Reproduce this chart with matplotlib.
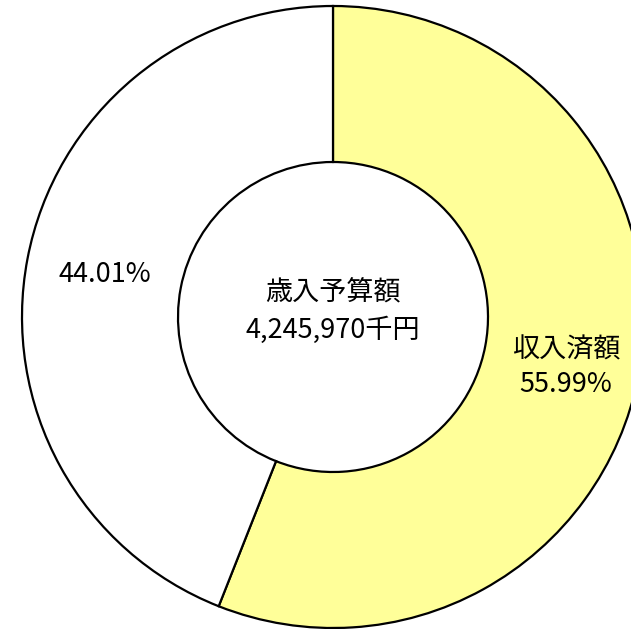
import matplotlib
matplotlib.use("Agg")
import matplotlib.pyplot as plt

plt.rcParams['font.family'] = ['Noto Sans CJK JP', 'DejaVu Sans']

labels = ["収入済額", ""]
values = [55.99, 44.01]
pct_labels = ["55.99%", "44.01%"]
colors = ["#ffff99", "#ffffff"]
center_title = "歳入予算額"
center_value = "4,245,970千円"

fig = plt.figure(figsize=(6.31, 6.29), dpi=100)
ax = fig.add_axes([0, 0, 1, 1])

cx, cy = 333, 312
r_out, r_in = 311, 155

ax.pie(values, colors=colors, startangle=90, counterclock=False,
       center=(cx, cy), radius=r_out, frame=True,
       wedgeprops=dict(width=r_out - r_in, edgecolor="black", linewidth=1.6))
ax.set_xlim(0, 631)
ax.set_ylim(0, 629)
ax.set_aspect("equal")
ax.axis("off")

fs = 19.5
ax.text(cx, 629 - 293, center_title, ha="center", va="center", fontsize=fs)
ax.text(cx, 629 - 330, center_value, ha="center", va="center", fontsize=fs)

ax.text(566, 629 - 350, labels[0], ha="center", va="center", fontsize=fs)
ax.text(566, 629 - 385, pct_labels[0], ha="center", va="center", fontsize=fs)
ax.text(105, 629 - 275, pct_labels[1], ha="center", va="center", fontsize=fs)

fig.savefig("out.png", dpi=100)
